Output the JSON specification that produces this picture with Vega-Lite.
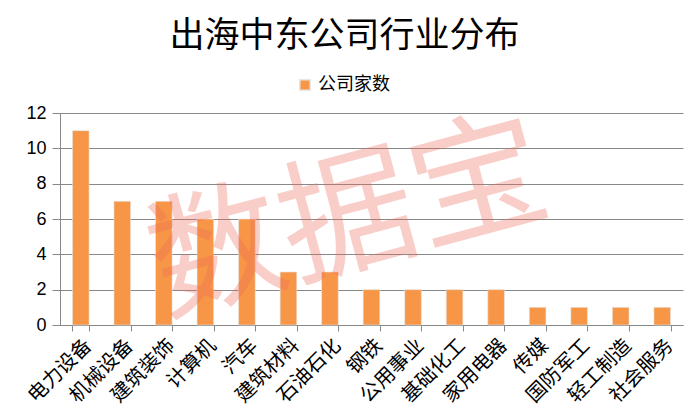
{
  "$schema": "https://vega.github.io/schema/vega-lite/v6.json",
  "autosize": "none",
  "width": 623,
  "height": 212,
  "padding": {"left": 60, "top": 113, "right": 14, "bottom": 95},
  "background": "white",
  "title": {
    "text": "出海中东公司行业分布",
    "anchor": "middle",
    "dx": -27,
    "offset": 22,
    "fontSize": 35,
    "font": "Noto Sans CJK SC",
    "fontWeight": "normal",
    "color": "#000000"
  },
  "config": {
    "view": {"stroke": null},
    "font": "Noto Sans CJK SC",
    "axisY": {
      "tickCount": 7,
      "labelOverlap": false,
      "labelFontSize": 18,
      "labelFont": "Liberation Sans",
      "labelColor": "#000000",
      "labelPadding": 6,
      "tickSize": 8,
      "tickColor": "#888888",
      "domain": true,
      "domainColor": "#888888",
      "gridColor": "#888888",
      "gridWidth": 1
    },
    "axisX": {
      "labelAngle": -45,
      "labelFontSize": 20,
      "labelFont": "Noto Sans CJK SC",
      "labelColor": "#000000",
      "labelPadding": 4,
      "tickBand": "extent",
      "tickSize": 6,
      "tickColor": "#888888",
      "domainColor": "#888888",
      "labelOverlap": false
    }
  },
  "data": {
    "values": [
      {"行业": "电力设备", "公司家数": 11},
      {"行业": "机械设备", "公司家数": 7},
      {"行业": "建筑装饰", "公司家数": 7},
      {"行业": "计算机", "公司家数": 6},
      {"行业": "汽车", "公司家数": 6},
      {"行业": "建筑材料", "公司家数": 3},
      {"行业": "石油石化", "公司家数": 3},
      {"行业": "钢铁", "公司家数": 2},
      {"行业": "公用事业", "公司家数": 2},
      {"行业": "基础化工", "公司家数": 2},
      {"行业": "家用电器", "公司家数": 2},
      {"行业": "传媒", "公司家数": 1},
      {"行业": "国防军工", "公司家数": 1},
      {"行业": "轻工制造", "公司家数": 1},
      {"行业": "社会服务", "公司家数": 1}
    ]
  },
  "layer": [
    {
      "mark": {"type": "bar", "color": "#f79646", "stroke": "#e6e6e6", "strokeWidth": 0.6},
      "encoding": {
        "x": {
          "field": "行业",
          "type": "nominal",
          "sort": null,
          "scale": {"paddingInner": 0.6, "paddingOuter": 0.3},
          "axis": {"title": null}
        },
        "y": {
          "field": "公司家数",
          "type": "quantitative",
          "scale": {"domain": [0, 12], "nice": false},
          "axis": {"title": null, "tickCount": 7, "tickMinStep": 2, "grid": true}
        },
        "color": {
          "datum": "公司家数",
          "scale": {"range": ["#f79646"]},
          "legend": {
            "title": null,
            "orient": "none",
            "legendX": 236,
            "legendY": -37,
            "symbolType": "square",
            "symbolSize": 110,
            "labelFontSize": 18,
            "labelFont": "Noto Sans CJK SC",
            "labelColor": "#000000"
          }
        }
      }
    },
    {
      "data": {"values": [{"水印": "数据宝"}]},
      "mark": {
        "type": "text",
        "angle": -15,
        "fontSize": 135,
        "font": "Noto Sans CJK SC",
        "color": "#ee6a5a",
        "opacity": 0.32,
        "align": "center",
        "baseline": "middle",
        "dx": -25,
        "dy": 5
      },
      "encoding": {
        "x": {"datum": "钢铁", "type": "nominal"},
        "y": {"datum": 6.5, "type": "quantitative"},
        "text": {"field": "水印"}
      }
    }
  ]
}
